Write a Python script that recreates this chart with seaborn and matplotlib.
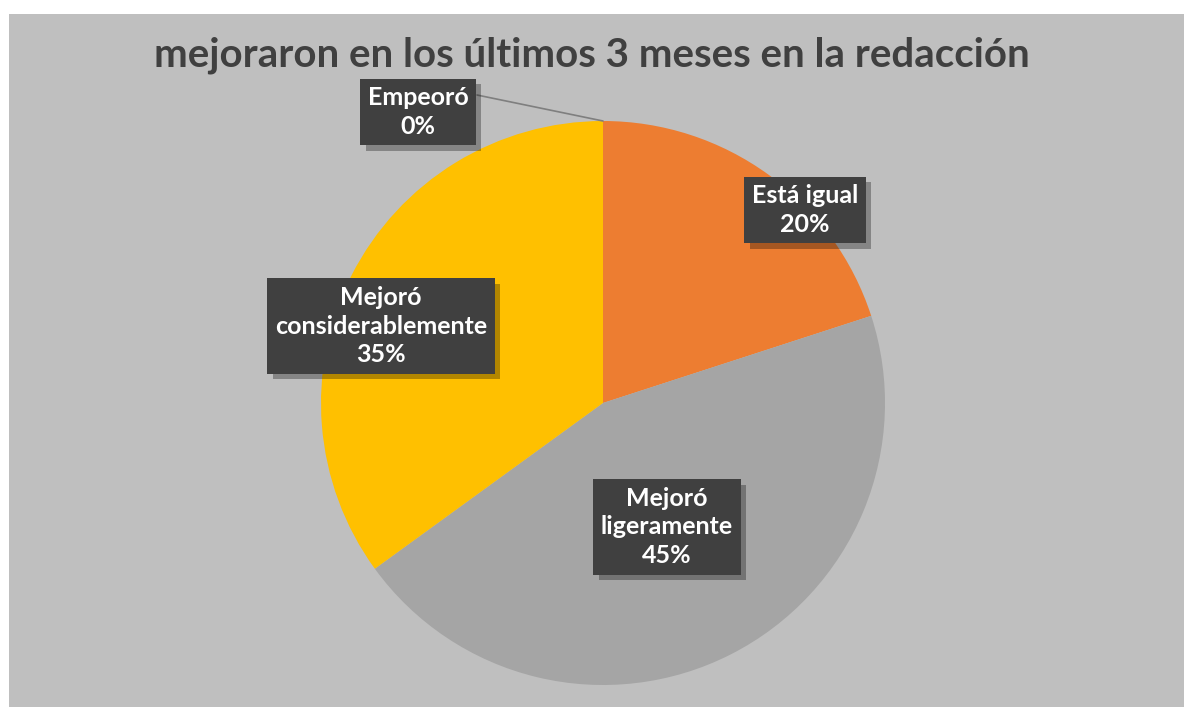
import matplotlib.pyplot as plt
import matplotlib.patheffects as pe
from matplotlib.patches import Rectangle
import seaborn as sns

# ---------- data ---------- #
categories = ["Empeoró", "Está igual", "Mejoró ligeramente", "Mejoró considerablemente"]
values = [0, 20, 45, 35]
label_texts = ["Empeoró\n0%", "Está igual\n20%", "Mejoró\nligeramente\n45%",
               "Mejoró\nconsiderablemente\n35%"]
title = "mejoraron en los últimos 3 meses en la redacción"

colors = ["#5B9BD5", "#ED7D31", "#A5A5A5", "#FFC000"]

sns.set_theme(style="white")
plt.rcParams['font.family'] = ['Lato', 'DejaVu Sans']

W, H = 1184, 707
fig = plt.figure(figsize=(W / 100, H / 100), dpi=100)
fig.patch.set_facecolor("white")
fig.add_artist(Rectangle((9 / W, 0), 1 - 9 / W, 1 - 14 / H, transform=fig.transFigure,
                         facecolor="#BFBFBF", edgecolor="none", zorder=0))

# pie centre (603, 403) px, radius 282 px
cx, cy, r = 603, 403, 282
ax = fig.add_axes([(cx - r) / W, (H - cy - r) / H, 2 * r / W, 2 * r / H])
ax.set_facecolor("none")
ax.pie(values, colors=colors, startangle=90, counterclock=False, radius=1,
       wedgeprops=dict(linewidth=0))
ax.set_xlim(-1, 1)
ax.set_ylim(-1, 1)
ax.set_aspect("equal")
ax.axis("off")

def px(x, y):
    return (x - cx) / r, (cy - y) / r

# label box centres (pixels)
label_pos = [(418, 112), (805, 210), (667, 527), (381, 326)]

# leader line for the 0% slice
lx0, ly0 = px(477, 95)
lx1, ly1 = px(603, 121)
ax.plot([lx0, lx1], [ly0, ly1], color="#7F7F7F", lw=1.2, clip_on=False)

for txt, (x, y) in zip(label_texts, label_pos):
    dx, dy = px(x, y)
    t = ax.text(dx, dy, txt, ha="center", va="center", color="white",
                fontsize=18, fontweight="bold", linespacing=1.3, clip_on=False,
                bbox=dict(boxstyle="square,pad=0.3", facecolor="#404040",
                          edgecolor="none"))
    t.get_bbox_patch().set_path_effects([
        pe.SimplePatchShadow(offset=(4, -4), shadow_rgbFace="black", alpha=0.3),
        pe.Normal()])

fig.text(0.5, 1 - 55 / H, title, ha="center", va="center", fontsize=29,
         fontweight="bold", color="#404040")

fig.savefig("out.png", dpi=100, facecolor="white")
